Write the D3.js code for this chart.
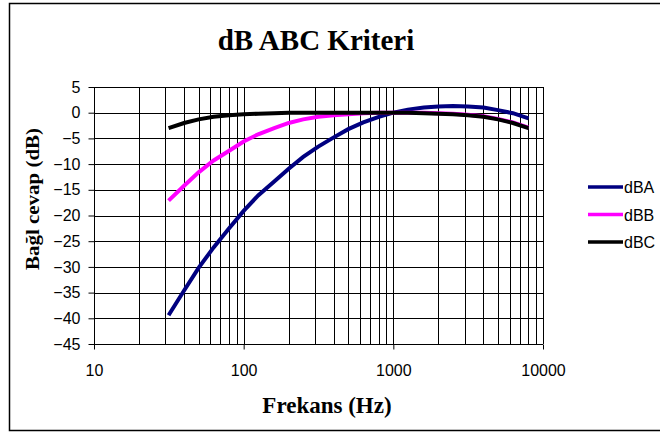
<!DOCTYPE html>
<html>
<head>
<meta charset="utf-8">
<script src="https://cdn.jsdelivr.net/npm/d3@7"></script>
<style>
    body { margin: 0; background: #fff; }
    .tick text { font-family: Arial, "Liberation Sans", sans-serif; font-size: 16px; fill: #000; }
</style>
</head>
<body>
<div id="chart"></div>
<script>
const WIDTH = 660;
const HEIGHT = 433;

// 1/3 octave band centre frequencies (Hz)
const frequencies = [31.5, 40, 50, 63, 80, 100, 125, 160, 200, 250, 315, 400, 500, 630, 800,
    1000, 1250, 1600, 2000, 2500, 3150, 4000, 5000, 6300, 8000];
const dBA = [-39.4, -34.6, -30.2, -26.2, -22.5, -19.1, -16.1, -13.4, -10.9, -8.6, -6.6, -4.8, -3.2, -1.9, -0.8,
    0, 0.6, 1.0, 1.2, 1.3, 1.2, 1.0, 0.5, -0.1, -1.1];
const dBB = [-17.1, -14.2, -11.6, -9.3, -7.4, -5.6, -4.2, -3.0, -2.0, -1.3, -0.8, -0.5, -0.3, -0.1, 0,
    0, 0, 0, -0.1, -0.2, -0.4, -0.7, -1.2, -1.9, -2.9];
const dBC = [-3.0, -2.0, -1.3, -0.8, -0.5, -0.3, -0.2, -0.1, 0, 0, 0, 0, 0, 0, 0,
    0, 0, -0.1, -0.2, -0.3, -0.5, -0.8, -1.3, -2.0, -3.0];
const seriesNames = ["dBA", "dBB", "dBC"];
const seriesColors = ["#000080", "#ff00ff", "#000000"];
const xTickValues = [10, 100, 1000, 10000];
const yTickValues = d3.range(-45, 6, 5);

const plot = { left: 94, right: 543, top: 87, bottom: 344 };

var svg = d3.select("#chart")
    .append("svg")
    .attr("width", WIDTH)
    .attr("height", HEIGHT);

// chart area frame
svg.append("rect")
    .attr("x", 9.5)
    .attr("y", 3.5)
    .attr("width", 700)
    .attr("height", 427)
    .attr("fill", "#fff")
    .attr("stroke", "#000")
    .attr("stroke-width", 1.5);

var xScale = d3.scaleLog()
    .domain([10, 10000])
    .range([plot.left, plot.right]);

var yScale = d3.scaleLinear()
    .domain([-45, 5])
    .range([plot.bottom, plot.top]);

// vertical grid at every log step
var minorTicks = [];
[10, 100, 1000].forEach(function(dec) {
    for (var k = 2; k <= 10; k++) minorTicks.push(dec * k);
});

svg.append("g")
    .selectAll("line")
    .data(minorTicks)
    .enter()
    .append("line")
    .attr("x1", d => Math.round(xScale(d)) + 0.5)
    .attr("x2", d => Math.round(xScale(d)) + 0.5)
    .attr("y1", plot.top)
    .attr("y2", plot.bottom)
    .attr("stroke", "#000")
    .attr("stroke-width", 1);

// horizontal grid
svg.append("g")
    .selectAll("line")
    .data(yTickValues)
    .enter()
    .append("line")
    .attr("x1", plot.left)
    .attr("x2", plot.right)
    .attr("y1", d => Math.round(yScale(d)) + 0.5)
    .attr("y2", d => Math.round(yScale(d)) + 0.5)
    .attr("stroke", "#000")
    .attr("stroke-width", 1);

// axes
var xAxis = d3.axisBottom(xScale)
    .tickValues(xTickValues)
    .tickFormat(d3.format("d"))
    .tickSize(5)
    .tickPadding(15);

var yAxis = d3.axisLeft(yScale)
    .tickValues(yTickValues)
    .tickFormat(d3.format("d"))
    .tickSize(6)
    .tickPadding(8);

svg.append("g")
    .attr("transform", "translate(0," + (Math.round(plot.bottom) + 0.5) + ")")
    .call(xAxis)
    .call(g => g.select(".domain").attr("stroke", "#000").attr("d", "M" + plot.left + ",0H" + plot.right))
    .call(g => g.selectAll(".tick line").attr("stroke", "#000"));

svg.append("g")
    .attr("transform", "translate(" + (plot.left + 0.5) + ",0)")
    .call(yAxis)
    .call(g => g.select(".domain").attr("stroke", "#000").attr("d", "M0," + plot.top + "V" + plot.bottom))
    .call(g => g.selectAll(".tick line").attr("stroke", "#000"));

// series
var line = d3.line()
    .x((d, i) => xScale(frequencies[i]))
    .y(d => yScale(d));

[dBA, dBB, dBC].forEach(function(values, i) {
    svg.append("path")
        .datum(values)
        .attr("fill", "none")
        .attr("stroke", seriesColors[i])
        .attr("stroke-width", 4)
        .attr("d", line);
});

// legend
var legend = svg.append("g");
seriesNames.forEach(function(name, i) {
    var y = 187 + i * 27.5;
    legend.append("line")
        .attr("x1", 588)
        .attr("x2", 623)
        .attr("y1", y)
        .attr("y2", y)
        .attr("stroke", seriesColors[i])
        .attr("stroke-width", 3.5);
    legend.append("text")
        .attr("x", 624)
        .attr("y", y + 6)
        .style("font-family", "Arial, 'Liberation Sans', sans-serif")
        .style("font-size", "16px")
        .text(name);
});

// titles
svg.append("text")
    .attr("x", 316)
    .attr("y", 50)
    .attr("text-anchor", "middle")
    .style("font-family", "'Liberation Serif', 'Times New Roman', serif")
    .style("font-weight", "bold")
    .style("font-size", "29px")
    .text("dB ABC Kriteri");

svg.append("text")
    .attr("x", 327)
    .attr("y", 413)
    .attr("text-anchor", "middle")
    .style("font-family", "'Liberation Serif', 'Times New Roman', serif")
    .style("font-weight", "bold")
    .style("font-size", "23px")
    .text("Frekans (Hz)");

svg.append("text")
    .attr("transform", "translate(39,199) rotate(-90)")
    .attr("text-anchor", "middle")
    .style("font-family", "'Liberation Serif', 'Times New Roman', serif")
    .style("font-weight", "bold")
    .style("font-size", "19px")
    .attr("textLength", 142)
    .attr("lengthAdjust", "spacingAndGlyphs")
    .text("Bağl cevap (dB)");
</script>
</body>
</html>
